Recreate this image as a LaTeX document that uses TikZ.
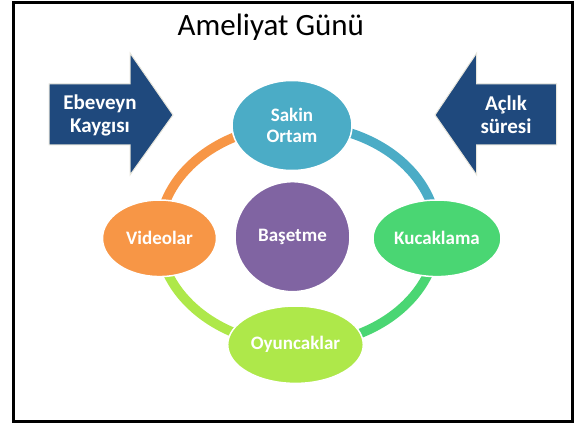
\documentclass[tikz,border=0pt]{standalone}
\usepackage{fontspec}
\setmainfont{Carlito}
\usetikzlibrary{shapes.geometric,backgrounds}
\definecolor{tealc}{HTML}{4BACC6}
\definecolor{purplec}{HTML}{8064A2}
\definecolor{greenc}{HTML}{4AD673}
\definecolor{orangec}{HTML}{F79646}
\definecolor{limec}{HTML}{AEE84A}
\definecolor{navyc}{HTML}{1F497D}
\definecolor{glowc}{HTML}{E8E6DC}
\begin{document}
\begin{tikzpicture}[x=1pt,y=1pt,
  bubble/.style={ellipse, draw=white, line width=1.5pt, inner sep=0pt, text=white,
    font=\bfseries\fontsize{19}{20.5}\selectfont, align=center},
  ringarc/.style={line width=9.5pt},
  bigarrow/.style={fill=navyc, draw=glowc, line width=1pt, line join=miter},
  arrowtext/.style={text=white, font=\bfseries\fontsize{21}{23}\selectfont, align=center, inner sep=0pt}]
\useasboundingbox (0,0) rectangle (579,424);
\draw[line width=3pt] (13.5,2.5) rectangle (572,421.5);
\node[anchor=base, font=\fontsize{31}{36}\selectfont, inner sep=0pt] (title) at (270.8,388.3) {Ameliyat Günü};
% arrows
\draw[bigarrow] (49,340) -- (130,340) -- (130,371) -- (173,309) -- (130,249) -- (130,279) -- (49,279) -- cycle;
\node[arrowtext] (ebeveyn) at (100,309) {Ebeveyn\\Kaygısı};
\draw[bigarrow] (556.7,340) -- (476.7,340) -- (476.7,371) -- (435,309) -- (476.7,249) -- (476.7,279) -- (556.7,279) -- cycle;
\node[arrowtext] (aclik) at (506,309) {Açlık\\süresi};
% bubbles
\node[bubble, fill=tealc, minimum width=120pt, minimum height=90pt] (sakin) at (292,298.5) {Sakin\\Ortam};
\node[bubble, fill=purplec, minimum width=115pt, minimum height=110pt] (basetme) at (292.5,187.3) {Başetme};
\node[bubble, fill=greenc, minimum width=128pt, minimum height=76.6pt] (kucak) at (437,185.7) {Kucaklama};
\node[bubble, fill=orangec, minimum width=114pt, minimum height=76.6pt] (video) at (159.5,185.7) {Videolar};
\node[bubble, fill=limec, minimum width=135.6pt, minimum height=77.4pt] (oyun) at (295.5,79.3) {Oyuncaklar};
\begin{scope}[on background layer]
\draw[ringarc, tealc] (298,299) arc[start angle=90, end angle=0, x radius=139, y radius=110];
\draw[ringarc, greenc] (437,189) arc[start angle=0, end angle=-90, x radius=139, y radius=110];
\draw[ringarc, limec] (298,79) arc[start angle=270, end angle=180, x radius=139, y radius=110];
\draw[ringarc, orangec] (159,189) arc[start angle=180, end angle=90, x radius=139, y radius=110];
\end{scope}
\end{tikzpicture}
\end{document}
